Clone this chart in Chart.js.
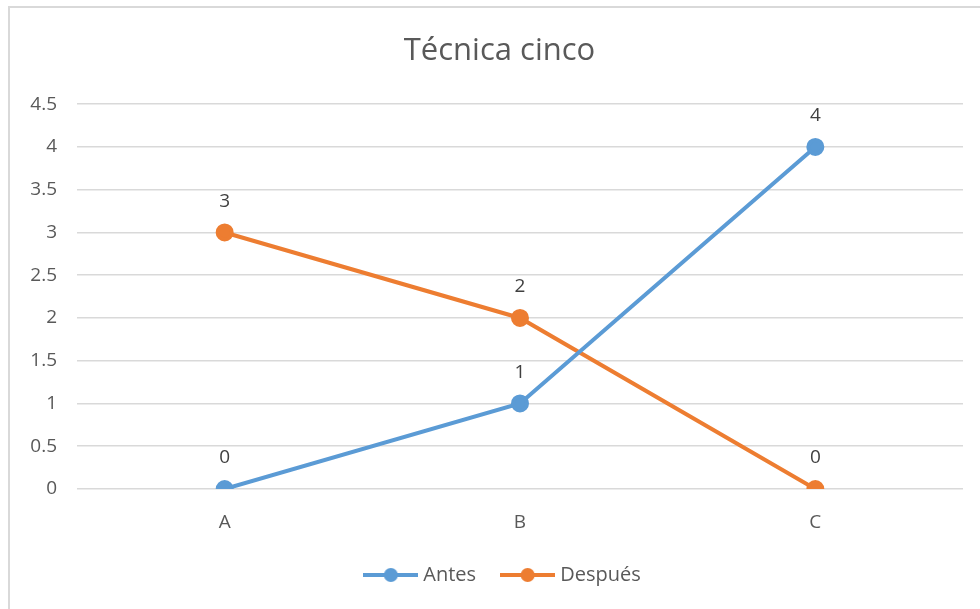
<!DOCTYPE html>
<html>
<head>
<meta charset="utf-8">
<script src="https://cdn.jsdelivr.net/npm/chart.js@4/dist/chart.umd.min.js"></script>
<style>
  html, body { margin: 0; padding: 0; background: #fff; }
  #frame {
    position: absolute; left: 8px; top: 6px; width: 990px; height: 620px;
    border: 2px solid #d9d9d9; box-sizing: border-box;
  }
  #wrap { position: absolute; left: 0; top: 0; width: 980px; height: 609px; }
</style>
</head>
<body>
<div id="frame"></div>
<div id="wrap"><canvas id="chart"></canvas></div>
<script>
// categories and series
const categories = ["A", "B", "C"];
const antes = [0, 1, 4];
const despues = [3, 2, 0];
const yTicks = [0, 0.5, 1, 1.5, 2, 2.5, 3, 3.5, 4, 4.5];

const blue = "#5B9BD5";
const orange = "#ED7D31";
const textColor = "#595959";
const font = "'Open Sans', 'DejaVu Sans', sans-serif";

// legend marker: a short line with a dot in the middle
function legendMarker(color) {
  const c = document.createElement("canvas");
  c.width = 55; c.height = 16;
  const ctx = c.getContext("2d");
  ctx.strokeStyle = color;
  ctx.lineWidth = 4;
  ctx.beginPath();
  ctx.moveTo(0, 8); ctx.lineTo(55, 8);
  ctx.stroke();
  ctx.fillStyle = color;
  ctx.beginPath();
  ctx.arc(27.5, 8, 7, 0, Math.PI * 2);
  ctx.fill();
  return c;
}

// values written above each point
const pointLabels = {
  id: "pointLabels",
  afterDatasetsDraw(chart) {
    const ctx = chart.ctx;
    ctx.save();
    ctx.font = "19px " + font;
    ctx.fillStyle = "#404040";
    ctx.textAlign = "center";
    ctx.textBaseline = "middle";
    chart.data.datasets.forEach((ds, i) => {
      chart.getDatasetMeta(i).data.forEach((pt, j) => {
        ctx.fillText(String(ds.data[j]), pt.x, pt.y - 31);
      });
    });
    ctx.restore();
  }
};

// title and legend sit a bit right of the plot centre, like the original
const boxShift = {
  id: "boxShift",
  afterLayout(chart) {
    if (chart.titleBlock) chart.titleBlock.left += 36;
    if (chart.legend) {
      chart.legend.left += 23;
      chart.legend.right += 23;
    }
  }
};

new Chart(document.getElementById("chart"), {
  type: "line",
  plugins: [pointLabels, boxShift],
  data: {
    labels: categories,
    datasets: [
      {
        label: "Antes",
        data: antes,
        borderColor: blue,
        backgroundColor: blue,
        borderWidth: 4,
        pointStyle: "circle",
        pointRadius: 7,
        tension: 0
      },
      {
        label: "Después",
        data: despues,
        borderColor: orange,
        backgroundColor: orange,
        borderWidth: 4,
        pointStyle: "circle",
        pointRadius: 7,
        tension: 0
      }
    ]
  },
  options: {
    responsive: true,
    maintainAspectRatio: false,
    animation: false,
    layout: { padding: { left: 0, right: 17, top: 0, bottom: 14 } },
    plugins: {
      tooltip: { enabled: false },
      title: {
        display: true,
        text: "Técnica cinco",
        color: textColor,
        font: { family: font, size: 31, weight: "normal" },
        padding: { top: 33, bottom: 34 }
      },
      legend: {
        position: "bottom",
        labels: {
          color: textColor,
          font: { family: font, size: 20 },
          padding: 29,
          usePointStyle: true,
          pointStyleWidth: 45,
          boxHeight: 16,
          generateLabels(chart) {
            return chart.data.datasets.map((ds, i) => ({
              text: ds.label,
              pointStyle: legendMarker(ds.borderColor),
              fillStyle: ds.borderColor,
              strokeStyle: ds.borderColor,
              lineWidth: 0,
              fontColor: textColor,
              datasetIndex: i
            }));
          }
        }
      }
    },
    scales: {
      x: {
        offset: true,
        grid: { display: false },
        border: { display: false },
        ticks: { color: textColor, font: { family: font, size: 19 }, padding: 14 },
        afterFit(scale) { scale.height = 47; }
      },
      y: {
        min: 0,
        max: 4.5,
        afterBuildTicks(scale) { scale.ticks = yTicks.map(v => ({ value: v })); },
        grid: { color: "#d9d9d9", lineWidth: 1.5, drawTicks: false },
        border: { display: false },
        ticks: {
          color: textColor,
          font: { family: font, size: 19 },
          padding: 20,
          callback: v => String(v)
        },
        afterFit(scale) { scale.width = 77; }
      }
    }
  }
});
</script>
</body>
</html>
